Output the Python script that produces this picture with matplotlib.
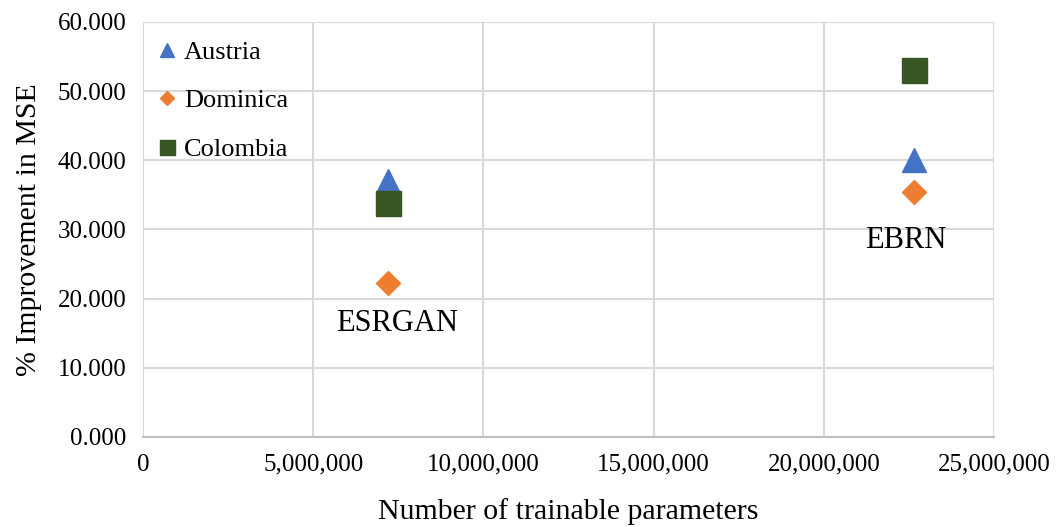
import matplotlib.pyplot as plt
from matplotlib.ticker import FuncFormatter

# data
models = ["ESRGAN", "EBRN"]
params = [7_210_000, 22_660_000]
austria = [37.0, 40.0]
dominica = [22.3, 35.4]
colombia = [33.9, 53.1]

plt.rcParams["font.family"] = ["Liberation Serif", "DejaVu Serif"]

fig = plt.figure(figsize=(10.57, 5.27), dpi=100)
ax = fig.add_axes([0.1353, 0.1708, 0.8051, 0.7875])

grid_col = "#d9d9d9"
ax.set_axisbelow(True)
ax.grid(True, color=grid_col, linewidth=1.5)
for side in ["top", "right", "left"]:
    ax.spines[side].set_visible(False)
ax.spines["bottom"].set_color("#bfbfbf")
ax.spines["bottom"].set_linewidth(1.5)
ax.tick_params(length=0, labelsize=18, pad=12)

ax.plot(params, austria, linestyle="none", marker="^", markersize=17,
        color="#4472c4", label="Austria", zorder=3)
ax.plot(params, dominica, linestyle="none", marker="D", markersize=12,
        color="#ed7d31", label="Dominica", zorder=3)
ax.plot(params, colombia, linestyle="none", marker="s", markersize=18,
        color="#375623", label="Colombia", zorder=4)

# model name labels
ax.annotate(models[0], (params[0], dominica[0]), xytext=(6.5, -29),
            textcoords="offset points", ha="center", va="center", fontsize=22)
ax.annotate(models[1], (params[1], dominica[1]), xytext=(-6.5, -35),
            textcoords="offset points", ha="center", va="center", fontsize=22)

ax.set_xlim(0, 25_000_000)
ax.set_ylim(0, 60)
ax.set_xticks(range(0, 25_000_001, 5_000_000))
ax.set_yticks(range(0, 61, 10))
ax.xaxis.set_major_formatter(FuncFormatter(lambda v, p: f"{int(v):,}"))
ax.yaxis.set_major_formatter(FuncFormatter(lambda v, p: f"{v:.3f}"))

ax.set_xlabel("Number of trainable parameters", fontsize=21.5, labelpad=16)
ax.set_ylabel("% Improvement in MSE", fontsize=21.5, labelpad=11)

leg = ax.legend(loc="upper left", frameon=False, fontsize=19,
                labelspacing=0.95, handletextpad=0.05, handlelength=1.2,
                borderaxespad=0, bbox_to_anchor=(-0.003, 0.981),
                markerscale=0.6)

fig.savefig("out.png", dpi=100)
